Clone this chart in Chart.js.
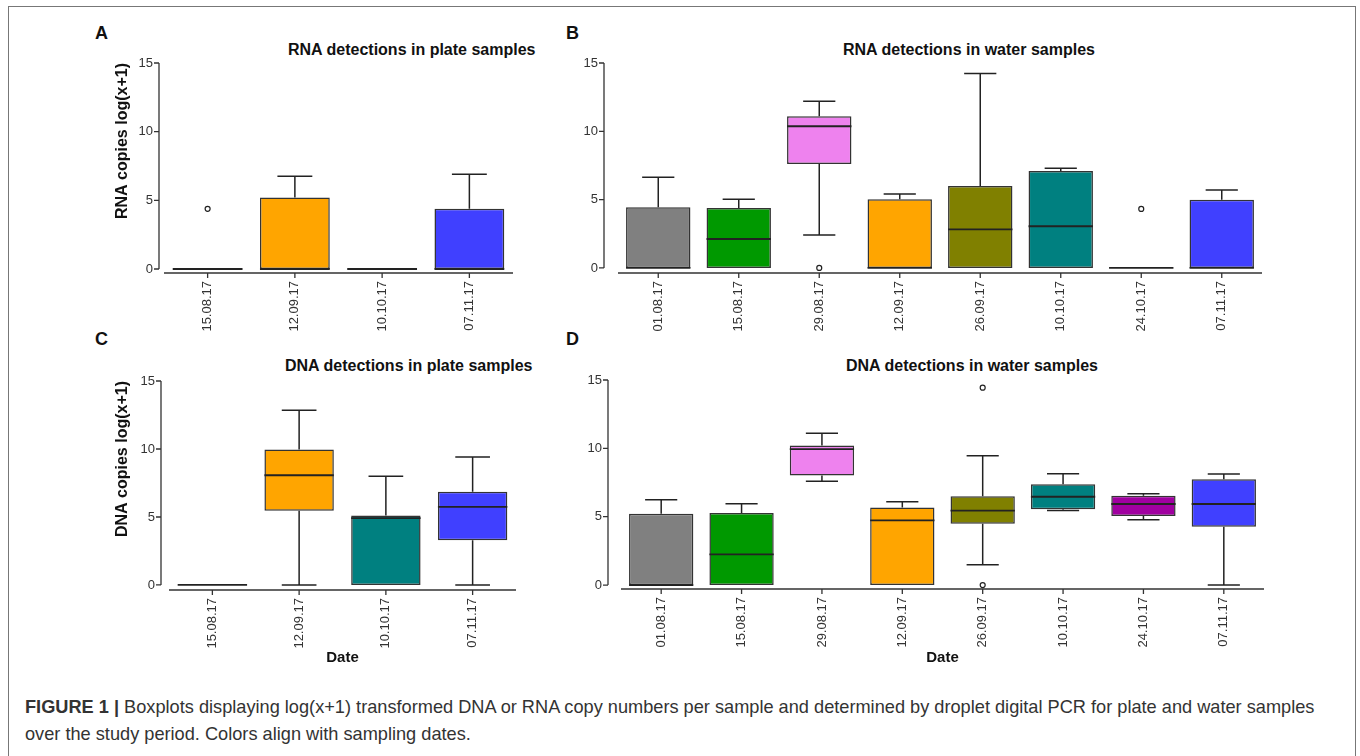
<!DOCTYPE html>
<html>
<head>
<meta charset="utf-8">
<script src="https://cdn.jsdelivr.net/npm/chart.js@4.4.1/dist/chart.umd.min.js"></script>
<style>
body{
margin:0;
width:1360px;
height:756px;
background:#fff;
position:relative;
overflow:hidden;
font-family:"Liberation Sans",Arial,sans-serif;
}
.frame{
position:absolute;
left:8px;
top:6px;
width:1346px;
height:800px;
border:1.5px solid #777;
}
canvas{
position:absolute;
}
.letter{
position:absolute;
font-weight:bold;
font-size:18px;
line-height:20px;
color:#111;
}
.title{
position:absolute;
font-weight:bold;
font-size:16px;
line-height:20px;
color:#111;
white-space:nowrap;
}
.caption{
position:absolute;
left:25px;
top:694px;
font-size:18.2px;
line-height:27px;
color:#333;
white-space:nowrap;
}
</style>
</head>
<body>

<div class="frame"></div>

<div class="letter" style="left:95px;top:23px">A</div>
<div class="letter" style="left:566px;top:23px">B</div>
<div class="letter" style="left:95px;top:329px">C</div>
<div class="letter" style="left:566px;top:329px">D</div>

<div class="title" style="left:288px;top:40px">RNA detections in plate samples</div>
<div class="title" style="left:843px;top:40px">RNA detections in water samples</div>
<div class="title" style="left:285px;top:356px">DNA detections in plate samples</div>
<div class="title" style="left:846px;top:356px">DNA detections in water samples</div>

<canvas id="chartA" width="470" height="330" style="left:80px;top:10px"></canvas>
<canvas id="chartB" width="740" height="330" style="left:540px;top:10px"></canvas>
<canvas id="chartC" width="470" height="356" style="left:80px;top:320px"></canvas>
<canvas id="chartD" width="740" height="356" style="left:540px;top:320px"></canvas>

<div class="caption"><b>FIGURE 1 |</b> Boxplots displaying log(x+1) transformed DNA or RNA copy numbers per sample and determined by droplet digital PCR for plate and water samples<br>over the study period. Colors align with sampling dates.</div>

<script>

// sampling dates
const plateDates = ["15.08.17","12.09.17","10.10.17","07.11.17"];
const waterDates = ["01.08.17","15.08.17","29.08.17","12.09.17","26.09.17","10.10.17","24.10.17","07.11.17"];

const yTickValues = [0,5,10,15];

// A - RNA plate
const rnaPlateMin = [0,0,0,0];
const rnaPlateQ1 = [0,0,0,0];
const rnaPlateMedian = [0,0,0,0];
const rnaPlateQ3 = [0,5.2,0,4.38];
const rnaPlateMax = [0,6.76,0,6.9];
const rnaPlateOutliers = [{x:"15.08.17",y:4.38}];

// B - RNA water
const rnaWaterMin = [0,0,2.41,0,0,0,0,0];
const rnaWaterQ1 = [0,0,7.61,0,0,0,0,0];
const rnaWaterMedian = [0,2.12,10.37,0,2.83,3.05,0,0];
const rnaWaterQ3 = [4.44,4.39,11.1,5.02,6.0,7.1,0,5.0];
const rnaWaterMax = [6.63,5.02,12.2,5.41,14.24,7.29,0,5.7];
const rnaWaterOutliers = [{x:"29.08.17",y:0},{x:"24.10.17",y:4.32}];

// C - DNA plate
const dnaPlateMin = [0,0,0,0];
const dnaPlateQ1 = [0,5.46,0,3.28];
const dnaPlateMedian = [0,8.07,4.92,5.75];
const dnaPlateQ3 = [0,9.96,5.11,6.85];
const dnaPlateMax = [0,12.85,8.0,9.42];
const dnaPlateOutliers = [];

// D - DNA water
const dnaWaterMin = [0,0,7.59,0,1.49,5.46,4.78,0];
const dnaWaterQ1 = [0,0,8.02,0,4.49,5.54,5.05,4.27];
const dnaWaterMedian = [0,2.24,9.95,4.73,5.44,6.46,5.93,5.93];
const dnaWaterQ3 = [5.22,5.27,10.2,5.68,6.49,7.37,6.53,7.73];
const dnaWaterMax = [6.24,5.95,11.1,6.1,9.46,8.14,6.68,8.12];
const dnaWaterOutliers = [{x:"26.09.17",y:14.44},{x:"26.09.17",y:0}];

const plateColors = ["#009900","#FFA500","#008080","#4040FF"];
const waterColors = ["#808080","#009900","#EE82EE","#FFA500","#808000","#008080","#A000A0","#4040FF"];

Chart.defaults.font.family = "'Liberation Sans', Arial, sans-serif";
Chart.defaults.color = "#333";

// prism style axes: y line stops at 0, x line starts a bit to the right
const prismAxes = {
id:"prismAxes",
afterDraw(chart,args,opts){
const {ctx,chartArea:a,scales:{x,y}} = chart;
const ax = a.left-opts.gap;
ctx.save();
ctx.strokeStyle = "#333";
ctx.lineWidth = 1.3;
ctx.beginPath();
ctx.moveTo(ax,y.getPixelForValue(yTickValues[0]));
ctx.lineTo(ax,y.getPixelForValue(yTickValues[yTickValues.length-1]));
y.ticks.forEach(t=>{
const py = y.getPixelForValue(t.value);
ctx.moveTo(ax-5,py);
ctx.lineTo(ax,py);
});
ctx.moveTo(a.left,a.bottom);
ctx.lineTo(a.right,a.bottom);
x.ticks.forEach((t,i)=>{
const px = x.getPixelForTick(i);
ctx.moveTo(px,a.bottom);
ctx.lineTo(px,a.bottom+5);
});
ctx.stroke();
ctx.restore();
}
};

// whiskers, caps and medians on top of the floating bars
const boxExtras = {
id:"boxExtras",
afterDatasetsDraw(chart,args,opts){
const {ctx,scales:{y}} = chart;
const bars = chart.getDatasetMeta(0).data;
ctx.save();
ctx.strokeStyle = "#222";
bars.forEach((bar,i)=>{
const cx = bar.x;
const half = bar.width/2;
const cap = bar.width/4;
const yMin = y.getPixelForValue(opts.min[i]);
const yQ1 = y.getPixelForValue(opts.q1[i]);
const yQ3 = y.getPixelForValue(opts.q3[i]);
const yMax = y.getPixelForValue(opts.max[i]);
const yMed = y.getPixelForValue(opts.median[i]);
ctx.lineWidth = 1.5;
ctx.beginPath();
if(opts.max[i]>opts.q3[i]){
ctx.moveTo(cx,yQ3);
ctx.lineTo(cx,yMax);
ctx.moveTo(cx-cap,yMax);
ctx.lineTo(cx+cap,yMax);
}
if(opts.min[i]<opts.q1[i]){
ctx.moveTo(cx,yQ1);
ctx.lineTo(cx,yMin);
}
if(opts.q1[i]>0||opts.min[i]<opts.q1[i]){
ctx.moveTo(cx-cap,yMin);
ctx.lineTo(cx+cap,yMin);
}
ctx.stroke();
ctx.lineWidth = 1.8;
ctx.beginPath();
ctx.moveTo(cx-half,yMed);
ctx.lineTo(cx+half,yMed);
ctx.stroke();
});
ctx.restore();
}
};

function makeBoxplot(id,cfg){

new Chart(
document.getElementById(id),
{
type:"bar",
data:{
labels:cfg.labels,
datasets:[
{
data:cfg.q1.map((v,i)=>[v,cfg.q3[i]]),
backgroundColor:cfg.colors,
borderColor:"#333",
borderWidth:1.5,
borderSkipped:false,
barPercentage:0.8,
categoryPercentage:1,
grouped:false
},
{
type:"line",
data:cfg.outliers,
showLine:false,
pointRadius:2.5,
pointBackgroundColor:"#fff",
pointBorderColor:"#222",
pointBorderWidth:1.2
}
]
},
options:{
responsive:false,
animation:false,
events:[],
layout:{
padding:{top:cfg.area.top,right:cfg.area.right,left:0,bottom:0}
},
plugins:{
legend:{display:false},
tooltip:{enabled:false},
prismAxes:{gap:cfg.gap},
boxExtras:{min:cfg.min,q1:cfg.q1,median:cfg.median,q3:cfg.q3,max:cfg.max}
},
scales:{
x:{
grid:{display:false,drawTicks:false},
border:{display:false},
ticks:{
autoSkip:false,
minRotation:90,
maxRotation:90,
padding:8,
font:{size:13},
color:"#333"
},
title:{
display:!!cfg.xTitle,
text:cfg.xTitle||"",
font:{size:15,weight:"bold"},
color:"#111",
padding:{top:0,bottom:9}
},
afterFit:s=>{s.height=cfg.area.xHeight;}
},
y:{
min:cfg.yMin,
max:15,
grid:{display:false,drawTicks:false},
border:{display:false},
ticks:{
padding:cfg.gap+6,
font:{size:13},
color:"#333"
},
afterBuildTicks:s=>{s.ticks=yTickValues.map(v=>({value:v}));},
title:{
display:!!cfg.yTitle,
text:cfg.yTitle||"",
align:"end",
font:{size:16,weight:"bold"},
color:"#111",
padding:{top:33}
},
afterFit:s=>{s.width=cfg.area.left;}
}
}
},
plugins:[prismAxes,boxExtras]
}
);

}

makeBoxplot("chartA",{
labels:plateDates,colors:plateColors,
min:rnaPlateMin,q1:rnaPlateQ1,median:rnaPlateMedian,q3:rnaPlateQ3,max:rnaPlateMax,
outliers:rnaPlateOutliers,
yTitle:"RNA copies log(x+1)",
yMin:-0.29,gap:5,
area:{left:84,right:37,top:53,xHeight:67}
});

makeBoxplot("chartB",{
labels:waterDates,colors:waterColors,
min:rnaWaterMin,q1:rnaWaterQ1,median:rnaWaterMedian,q3:rnaWaterQ3,max:rnaWaterMax,
outliers:rnaWaterOutliers,
yMin:-0.37,gap:14,
area:{left:78,right:18,top:53,xHeight:67}
});

makeBoxplot("chartC",{
labels:plateDates,colors:plateColors,
min:dnaPlateMin,q1:dnaPlateQ1,median:dnaPlateMedian,q3:dnaPlateQ3,max:dnaPlateMax,
outliers:dnaPlateOutliers,
yTitle:"DNA copies log(x+1)",
xTitle:"Date",
yMin:-0.37,gap:8,
area:{left:89,right:34,top:61,xHeight:86}
});

makeBoxplot("chartD",{
labels:waterDates,colors:waterColors,
min:dnaWaterMin,q1:dnaWaterQ1,median:dnaWaterMedian,q3:dnaWaterQ3,max:dnaWaterMax,
outliers:dnaWaterOutliers,
xTitle:"Date",
yMin:-0.29,gap:13,
area:{left:81,right:16,top:60,xHeight:87}
});

</script>
</body>
</html>
